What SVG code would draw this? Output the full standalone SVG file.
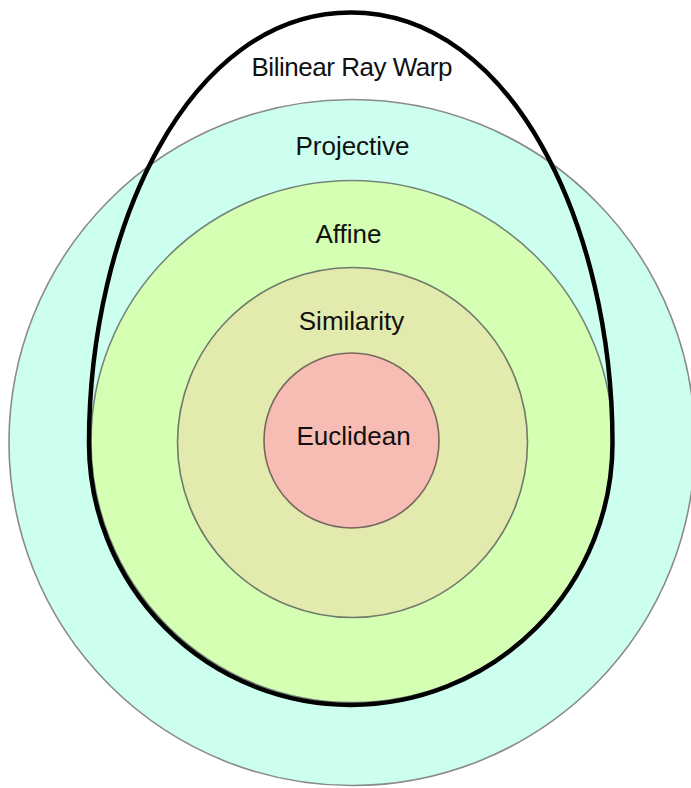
<svg xmlns="http://www.w3.org/2000/svg" width="691" height="788" viewBox="0 0 691 788">
  <style>
    .ring { stroke-width: 1.6; }
    .lbl { font-family: "Liberation Sans", Arial, sans-serif; font-size: 26px; fill: #111; text-anchor: middle; }
    .warp { fill: none; stroke: #000; stroke-width: 4.5; }
  </style>
  <rect x="0" y="0" width="691" height="788" fill="#ffffff"/>
  <g id="projective">
    <circle class="ring" cx="352" cy="442.5" r="343" fill="#ccfff0" stroke="#8a8a8a"/>
    <text class="lbl" x="352.5" y="155">Projective</text>
  </g>
  <g id="affine">
    <circle class="ring" cx="352" cy="441.5" r="261" fill="#d5ffb3" stroke="#76857a"/>
    <text class="lbl" x="348.5" y="243">Affine</text>
  </g>
  <g id="similarity">
    <circle class="ring" cx="352.5" cy="442.5" r="175" fill="#e3eaae" stroke="#6f7a6a"/>
    <text class="lbl" x="351.5" y="330">Similarity</text>
  </g>
  <g id="euclidean">
    <circle class="ring" cx="351.5" cy="440.5" r="87.5" fill="#f7bdb4" stroke="#76685f"/>
    <text class="lbl" x="353.5" y="445">Euclidean</text>
  </g>
  <g id="bilinear-ray-warp">
    <path class="warp" d="M 612.5 443 C 612.5 227.75 513 12.5 350.75 12.5 C 188.5 12.5 89 227.75 89 443 A 261.75 262 0 0 0 612.5 443 Z"/>
    <text class="lbl" x="352" y="76" textLength="201">Bilinear Ray Warp</text>
  </g>
</svg>
